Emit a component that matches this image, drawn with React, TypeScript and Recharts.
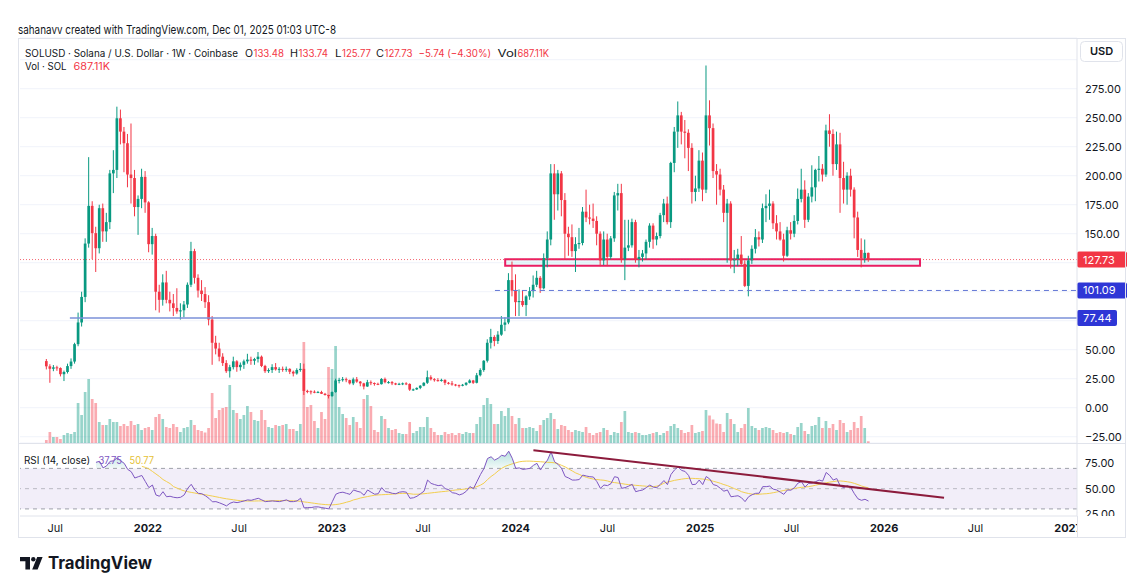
import { ComposedChart, Bar, Line, Area, XAxis, YAxis, CartesianGrid, ReferenceLine, ReferenceArea } from 'recharts'

const FONT = 'Inter, "Noto Sans", Roboto, sans-serif'
const TEXT = '#131722'
const UP = '#089981'
const DOWN = '#f23645'
const VOL_UP = 'rgba(8, 153, 129, 0.42)'
const VOL_DOWN = 'rgba(242, 54, 69, 0.42)'
const BORDER = '#e0e3eb'
const RSI_COLOR = '#7e57c2'
const RSI_MA_COLOR = '#f2cf4f'
const LEVEL_BLUE = '#2e36d6'

// layout
const W = 1141
const AXIS_W = 64
const PLOT_LEFT = 20
const PRICE_TOP = 38
const PRICE_H = 444
const RSI_PLOT_H = 72
const TIME_AXIS_H = 22
const BODY_W = 2.7
const VOL_W = 2.7

// week index domain (week 0 = 2021-06-14)
const T_MIN = -7.54
const T_MAX = 292.1
const P_MIN = -30.4
const P_MAX = 318.7
const VOL_MAX = 162
const RSI_MIN = 23
const RSI_MAX = 94.1

// SOLUSD weekly candles, Coinbase, 2021-06-14 .. 2025-12-01
const opens = [
  // 2021
  40.2, 35.7, 33.6, 34.8, 34.2, 28.9, 30.8, 35.9, 39.8, 54.8, 73.5, 95.5, 141.5, 174, 150.5, 137.5, 172, 152, 160, 202,
  205, 249.5, 238, 228, 201, 198, 173, 180, 199,
  // 2022
  177, 141, 148, 100, 93, 108, 93, 90, 86, 83, 84, 89, 106, 135, 112, 101, 98, 91, 76, 56,
  51, 44, 38.5, 31.5, 35, 40, 35, 37, 40, 41.5, 40.5, 42, 44, 36, 31.5, 32.5, 35, 33, 33.5, 33,
  33.5, 31, 29.5, 32.5, 33.5, 14.5, 14.2, 13.8, 13.4, 13.5, 12, 11,
  // 2023
  10, 13.5, 23.5, 24, 24.6, 23.8, 21, 24.5, 22.5, 21, 18.3, 22, 21.3, 20.6, 20.3, 24.8, 22, 22.1, 21, 20,
  20.6, 21, 20.5, 15.6, 15.8, 17.1, 19, 21.5, 26.3, 24.6, 23.8, 23.5, 24, 21.5, 21, 20, 19.5, 19, 19.8, 21.5,
  23.5, 21.5, 28, 32.5, 40.5, 56, 61, 57.5, 63, 71.5, 73.5, 110,
  // 2024
  101, 91, 92, 88.5, 96, 100.5, 106, 112, 103, 129, 145, 202, 184, 202, 179, 150, 147, 135, 141, 142,
  169, 164, 163, 161, 150, 127, 145, 130, 146, 183, 185, 128, 138, 140, 160, 128, 130, 133, 143, 157,
  145, 148, 166, 176, 160, 211, 238, 252, 238, 237, 224, 186, 189,
  // 2025
  213, 188, 252, 241, 204, 201, 188, 168, 176, 127, 128, 132, 124, 105, 127, 137, 147, 145, 172, 174,
  176, 159, 152, 145, 131, 153, 150, 161, 180, 188, 162, 182, 190, 205, 206, 201, 239, 236, 210, 227,
  198, 188, 200, 188, 164, 136, 129, 133.48,
]

const highs = [
  42, 37.5, 36.8, 36.2, 34.8, 32, 38, 42.5, 56, 82, 100, 146, 216, 178, 156, 175, 176, 168, 205, 222,
  259.5, 257, 242, 236, 245, 205, 183, 206, 204,
  178, 155, 150, 106, 115, 118, 100, 98, 103, 90, 92, 108, 143, 137, 115, 110, 104, 97, 79, 62,
  56, 47, 41, 37, 44, 41, 39, 41.5, 46.5, 44, 43, 48, 45, 37, 34, 37.5, 38.5, 35, 35.5, 35.5,
  34, 32, 34, 38.5, 38, 15.5, 15, 15, 14.5, 14.6, 12.8, 11.2,
  14, 25, 25.8, 26.5, 26, 24.2, 26, 26.5, 23, 21.5, 24, 23.5, 21.8, 21.6, 25.5, 26, 23, 23, 21.5, 21.5,
  21.7, 22, 21, 16.5, 17.5, 19.5, 22, 32, 28, 25.5, 25.5, 25, 24.5, 22.2, 23, 20.5, 20, 20.5, 22, 24.5,
  24, 30, 34, 41, 59, 68, 62.5, 66, 79, 78, 116, 126,
  115, 102, 101, 97, 104, 114, 118, 113.5, 133, 152, 210, 210, 205, 204, 185, 156, 158, 147, 155, 173,
  188, 175, 176, 165, 152, 152, 150, 148, 186, 193, 193, 162, 162, 163, 162, 136, 136, 145, 159, 159,
  151, 168, 180, 182, 212, 242, 264, 255, 248, 240, 228, 200, 222,
  220, 295, 265, 245, 210, 206, 192, 180, 178, 136, 137, 148, 127, 131, 140, 154, 152, 176, 184, 188,
  178, 166, 160, 150, 156, 160, 166, 189, 206, 196, 185, 209, 206, 217, 210, 244, 253, 240, 238, 237,
  212, 203, 206, 190, 169, 146, 145, 133.74,
]

const lows = [
  33, 21.5, 31.5, 31.8, 27, 23, 29.5, 33.5, 38, 53, 70, 91, 138, 128, 117, 133, 143, 143, 154, 185,
  198, 227, 203, 190, 176, 165, 149, 172, 168,
  134, 132, 84, 82, 88, 90, 83, 79, 81, 76, 78, 86, 104, 107, 95, 92, 86, 71, 37, 46,
  40, 36, 30, 26, 33, 31, 32, 33.5, 38, 37, 37, 39, 35, 30, 30, 30, 32, 30, 31, 31,
  29, 27, 28.5, 31, 11, 12.5, 11.5, 12.5, 12.8, 11.8, 10.5, 8,
  9.5, 13, 21, 22.5, 22, 20, 19.5, 21.5, 18.5, 15.8, 18, 19.5, 19, 19.5, 20, 21, 20.8, 19.5, 19.5, 19.5,
  19.5, 19.5, 14.5, 14.5, 15.3, 16, 18.5, 20.5, 23.5, 22.5, 22.5, 22.5, 19.5, 20, 19, 18.5, 17.3, 18.5, 19, 21,
  20.5, 21, 27, 31, 39, 51, 53, 55, 62, 66, 72, 96,
  79, 79, 87, 79, 93, 95, 104, 99, 102, 121, 140, 162, 170, 165, 128, 131, 130, 117, 137, 140,
  160, 158, 155, 140, 122, 123, 122, 128, 143, 170, 125, 110, 135, 138, 125, 121, 126, 128, 138, 137,
  140, 146, 160, 158, 155, 203, 224, 227, 215, 204, 176, 178, 186,
  178, 185, 226, 198, 175, 183, 160, 125, 120, 116, 122, 122, 104, 96, 124, 133, 139, 142, 160, 162,
  154, 145, 144, 126, 130, 145, 147, 158, 177, 155, 160, 177, 178, 195, 195, 199, 225, 200, 205, 168,
  176, 175, 182, 146, 130, 121, 125, 125.77,
]

const closes = [
  35.7, 33.6, 34.8, 34.2, 28.9, 30.8, 35.9, 39.8, 54.8, 73.5, 95.5, 141.5, 174, 150.5, 137.5, 172, 152, 160, 202, 205,
  249.5, 238, 228, 201, 198, 173, 180, 199, 177,
  141, 148, 100, 93, 108, 93, 90, 86, 83, 84, 89, 106, 135, 112, 101, 98, 91, 76, 56, 51,
  44, 38.5, 31.5, 35, 40, 35, 37, 40, 41.5, 40.5, 42, 44, 36, 31.5, 32.5, 35, 33, 33.5, 33, 33.5,
  31, 29.5, 32.5, 33.5, 14.5, 14.2, 13.8, 13.4, 13.5, 12, 11, 10,
  13.5, 23.5, 24, 24.6, 23.8, 21, 24.5, 22.5, 21, 18.3, 22, 21.3, 20.6, 20.3, 24.8, 22, 22.1, 21, 20, 20.6,
  21, 20.5, 15.6, 15.8, 17.1, 19, 21.5, 26.3, 24.6, 23.8, 23.5, 24, 21.5, 21, 20, 19.5, 19, 19.8, 21.5, 23.5,
  21.5, 28, 32.5, 40.5, 56, 61, 57.5, 63, 71.5, 73.5, 110, 101,
  91, 92, 88.5, 96, 100.5, 106, 112, 103, 129, 145, 202, 184, 202, 179, 150, 147, 135, 141, 142, 169,
  164, 163, 161, 150, 127, 145, 130, 146, 183, 185, 128, 138, 140, 160, 128, 130, 133, 143, 157, 145,
  148, 166, 176, 160, 211, 238, 252, 238, 237, 224, 186, 189, 213,
  188, 252, 241, 204, 201, 188, 168, 176, 127, 128, 132, 124, 105, 127, 137, 147, 145, 172, 174, 176,
  159, 152, 145, 131, 153, 150, 161, 180, 188, 162, 182, 190, 205, 206, 201, 239, 236, 210, 227, 198,
  188, 200, 188, 164, 136, 129, 133.5, 127.73,
]

// weekly volume, millions of SOL
const volumes = [
  1.2, 4.4, 2.4, 2.4, 1.6, 3.2, 4.0, 3.6, 4.4, 16, 11.2, 20.4, 25.6, 17.6, 16, 8.4, 7.2, 7.2, 9.6, 8.4,
  8.4, 6.8, 7.6, 6.8, 8.8, 7.2, 7.6, 5.2, 6.0,
  6.4, 5.2, 10.4, 11.6, 9.6, 6.4, 6.0, 7.6, 6.4, 4.4, 6.0, 6.4, 9.2, 7.2, 5.2, 4.8, 4.2, 6.0, 20, 10,
  13.2, 14, 14.4, 23.2, 13.2, 12, 9.6, 11.2, 14.8, 12.4, 9.2, 8.8, 13.2, 9.2, 6.4, 6.0, 7.2, 6.8, 7.2, 7.6,
  5.6, 5.6, 4.8, 7.6, 40.4, 14.4, 15.2, 8.8, 6.0, 12.4, 9.6, 30.4,
  29.6, 38.8, 14.4, 11.6, 10, 7.2, 10.4, 8.4, 6.0, 17.6, 19.2, 14.8, 5.2, 4.4, 10.8, 9.6, 6.0, 5.2, 5.6, 4.0,
  3.6, 3.6, 8.4, 4.0, 4.8, 6.4, 6.4, 10.4, 6.0, 4.4, 3.2, 3.2, 4.4, 3.6, 4.0, 3.2, 4.0, 3.6, 4.4, 4.0,
  4.0, 7.6, 10.4, 15.2, 18, 15.6, 7.6, 7.6, 12.8, 10.8, 14, 10.8,
  7.6, 10, 6.0, 6.0, 6.4, 6.0, 4.8, 7.2, 9.2, 10, 12, 9.6, 5.6, 7.2, 6.8, 5.2, 4.4, 5.2, 4.8, 4.4,
  6.4, 4.0, 3.2, 4.0, 4.4, 6.0, 5.2, 3.2, 4.4, 4.0, 8.4, 12.8, 4.4, 4.0, 4.4, 4.0, 3.2, 3.2, 3.6, 4.0,
  4.4, 3.2, 4.0, 4.8, 6.8, 7.6, 6.0, 5.2, 4.0, 4.4, 7.2, 4.0, 4.4,
  4.8, 13.2, 11, 9.4, 7.8, 7.6, 4.4, 12, 9.6, 7.6, 4.4, 6.0, 7.6, 14, 6.8, 6.0, 5.2, 6.0, 6.4, 6.0,
  5.2, 4.0, 4.4, 4.0, 4.4, 3.6, 3.2, 6.4, 8.0, 4.8, 3.6, 6.8, 7.2, 10.4, 6.0, 8.8, 6.0, 7.6, 5.2, 9.2,
  8.0, 4.4, 5.2, 8.4, 6.0, 10.8, 6.0, 0.69,
]

// RSI(14, close), first value at week 14
const RSI_START = 14
const rsiValues = [
  76, 77, 70.5, 72.5, 77, 77.5, 80.5, 77.5, 75, 69,
  66.7, 60.5, 61.8, 63, 57, 51, 53.6, 43.8, 42.5, 47,
  42, 42.5, 41.5, 41, 41.5, 43.8, 50.3, 54.3, 48.7, 45.4,
  45, 43, 40.5, 37, 37.2, 36, 34.6, 33, 35.6, 36.8,
  36.2, 37, 37.9, 38.9, 38.5, 39.5, 40.5, 38.9, 37.2, 37.5,
  37.9, 37.5, 37.2, 38, 38.9, 37.2, 37.2, 37.9, 40.5, 31,
  31.3, 31.3, 32, 32, 31.3, 30.7, 30, 37.2, 44.5, 46,
  46.5, 45.4, 44.4, 48.7, 47.5, 46.5, 43.5, 48.7, 46.5, 44.5,
  45, 51, 47, 46.5, 45.4, 45, 46.5, 47, 46.5, 40.5,
  41, 42.5, 45, 47.5, 58.5, 55.2, 54, 53, 53.5, 50,
  49, 46, 45.4, 43.8, 45, 47.5, 52, 50, 57, 64,
  70, 79.8, 81.5, 78.2, 80, 83, 82, 87, 80, 70,
  70.5, 69, 69.5, 70, 73, 75, 68.4, 74, 78.2, 86.4,
  76.6, 74, 70, 62, 60.5, 58.5, 58.5, 59, 63.4, 62.5,
  61.8, 61.5, 56.9, 50.3, 53.6, 53, 55, 61.8, 61, 50.3,
  51, 52.5, 54.3, 47, 48, 48.7, 51, 53.6, 51.5, 51,
  54.3, 58, 54, 64, 68.5, 71.6, 68, 67, 63, 54,
  54.3, 58.5, 54, 62, 59.5, 54, 53, 50.3, 47.5, 48.7,
  42, 42.5, 43, 41, 37.2, 42, 44, 45.4, 45.5, 52,
  52, 52.5, 49.5, 48.7, 46.5, 44.4, 48.7, 48.5, 51, 55.5,
  56.9, 51.5, 55.2, 55.5, 56.9, 58.5, 57.5, 66, 63, 58.5,
  60, 52.5, 51, 53, 51, 45, 40, 38.5, 39.5, 37.75,
]

// RSI-based moving average, first value at week 27
const RSI_MA_START = 27
const rsiMaValues = [
  72, 71, 69.5, 67, 64.5, 62, 59, 57, 55, 52,
  50.5, 49, 47.8, 47, 46.3, 45.7, 45, 44.4, 44, 43.3,
  42.7, 42, 41.3, 40.6, 40, 39.5, 39, 38.5, 38.1, 37.9,
  37.8, 37.8, 37.8, 37.9, 37.9, 37.9, 38, 38, 38.1, 38.2,
  38.2, 38.2, 38.1, 38, 37.9, 37.5, 36.9, 36.5, 36, 35.5,
  35, 34.6, 34.3, 34.1, 34, 34.3, 34.8, 35.6, 36.6, 37.5,
  38.9, 39.7, 40.8, 41.5, 42.2, 42.9, 43.5, 43.8, 44, 44.2,
  44.4, 44.6, 44.9, 45.2, 45.4, 45.3, 45, 44.5, 44.5, 44.7,
  45, 45.4, 45.8, 46.2, 46.6, 47, 47.3, 47.8, 48.2, 48.7,
  49, 49.4, 49.8, 50.3, 51, 52, 53.5, 55.5, 59, 62,
  64.5, 67.5, 70, 72, 73.3, 74.5, 75.5, 76.5, 77, 77.2,
  77.2, 77, 76.8, 76.6, 76.3, 76, 75.9, 75.5, 74.5, 73,
  71.5, 69.5, 67.5, 65.5, 64.1, 62.5, 61.2, 60.2, 59.5, 59,
  58.6, 58.3, 57.6, 56.5, 56, 55.5, 55, 54.4, 54, 53.6,
  53.3, 53, 52.7, 52.4, 52.1, 52, 52.5, 53.5, 55.5, 56.5,
  57.3, 58.2, 58.8, 59.4, 59.9, 60.2, 60.2, 60, 59.8, 59.5,
  59, 58.3, 57.3, 56.4, 55.3, 54, 53, 51.5, 50, 48.7,
  47, 46, 45.2, 44.6, 44.4, 44.5, 44.8, 45, 45.4, 46,
  46.7, 47.5, 48.2, 48.9, 49.6, 50.2, 50.8, 51.3, 51.6, 52,
  52.6, 53.4, 54.2, 55, 55.8, 56.5, 57, 57.5, 57.6, 57.3,
  56.8, 56.2, 55.2, 54, 52.6, 51.6, 50.77,
]

// time axis: week offsets of Jul 1 / Jan 1
const timeTicks = [2.43, 28.71, 54.57, 80.86, 106.71, 133, 159, 185.29, 211.14, 237.43, 263.29, 289.57]
const timeLabels = ['Jul', '2022', 'Jul', '2023', 'Jul', '2024', 'Jul', '2025', 'Jul', '2026', 'Jul', '2027']

const priceTicks = [-25, 0, 25, 50, 75, 100, 125, 150, 175, 200, 225, 250, 275, 300]
const priceTicksHidden = [75, 100, 125, 300]
const rsiTicks = [25, 50, 75]
const rsiBands = [70, 50, 30]

// drawings
const lastPrice = 127.73
const supportLevel = 101.09
const supportFrom = 127.1
const baseLevel = 77.44
const baseFrom = 6.6
const zoneWeeks = [130, 247.6]
const zonePrices = [122.4, 127.9]
const rsiTrend = [{ x: 138, y: 88 }, { x: 254.4, y: 41.1 }]

// legend line: [label, value, x, label width, value width]
const ohlcLegend: [string, string, number, number, number][] = [
  ['O', '133.48', 245, 8, 30.5],
  ['H', '133.74', 290, 8, 29.5],
  ['L', '125.77', 335, 6.5, 29],
  ['C', '127.73', 376, 8, 28],
  ['Vol', '687.11K', 497.5, 19.5, 31.5],
]

const data = closes.map((close, i) => ({
  t: i,
  open: opens[i],
  high: highs[i],
  low: lows[i],
  close,
  volume: volumes[i],
  rsi: i >= RSI_START ? rsiValues[i - RSI_START] : null,
  rsiMa: i >= RSI_MA_START ? rsiMaValues[i - RSI_MA_START] : null,
}))

const last = data[data.length - 1]

function fmt(v: number) {
  const s = Math.abs(v).toFixed(2)
  return v < 0 ? '\u2212' + s : s
}

function Candle(props: any) {
  const { x, y, width, height, payload } = props
  if (!payload || x == null || y == null) return null
  const { open, close, high, low } = payload
  const top = height >= 0 ? y : y + height
  const h = Math.abs(height)
  const cx = x + width / 2
  const span = high - low || 1
  const at = (v: number) => top + ((high - v) / span) * h
  const yo = at(open)
  const yc = at(close)
  const color = close >= open ? UP : DOWN
  return (
    <g>
      <line x1={cx} x2={cx} y1={top} y2={top + h} stroke={color} strokeWidth={1} />
      <rect x={cx - BODY_W / 2} y={Math.min(yo, yc)} width={BODY_W} height={Math.max(1, Math.abs(yc - yo))} fill={color} />
    </g>
  )
}

function VolumeBar(props: any) {
  const { x, y, width, height, payload } = props
  if (!payload || !(height > 0)) return null
  const cx = x + width / 2
  return <rect x={cx - VOL_W / 2} y={y} width={VOL_W} height={height} fill={payload.close >= payload.open ? VOL_UP : VOL_DOWN} />
}

function PriceTick({ x, y, payload }: any) {
  if (priceTicksHidden.includes(payload.value)) return <g />
  return (
    <text x={x} y={y} dy="0.355em" fontSize={11} fill={TEXT} fontFamily={FONT}>
      {fmt(payload.value)}
    </text>
  )
}

function RsiTick({ x, y, payload }: any) {
  return (
    <g clipPath="url(#rsiPaneClip)">
      <text x={x} y={y} dy="0.355em" fontSize={11} fill={TEXT} fontFamily={FONT}>
        {fmt(payload.value)}
      </text>
    </g>
  )
}

function TimeTick({ x, y, payload }: any) {
  const label = timeLabels[timeTicks.indexOf(payload.value)] ?? ''
  const isYear = label !== 'Jul'
  return (
    <g clipPath="url(#timeAxisClip)">
      <text x={x} y={y} dy="0.71em" textAnchor="middle" fontSize={11} fontWeight={isYear ? 700 : 400} fill={TEXT} fontFamily={FONT}>
        {label}
      </text>
    </g>
  )
}

function PriceTag({ viewBox, text, fill, width }: any) {
  if (!viewBox) return null
  const x = viewBox.x + viewBox.width
  const y = viewBox.y
  return (
    <g>
      <rect x={x} y={y - 8} width={width} height={16} rx={2} fill={fill} />
      <text x={x + 6} y={y} dy="0.36em" fontSize={11} fill="#ffffff" fontFamily={FONT}>
        {text}
      </text>
    </g>
  )
}

function TradingViewLogo() {
  return (
    <g transform="translate(20 557)">
      <path d="M0 0H10V12.5H5.4V4.3H0Z" fill={TEXT} />
      <circle cx={13.3} cy={2.2} r={2.2} fill={TEXT} />
      <path d="M17.2 0H22.6L17.6 12.5H12.2Z" fill={TEXT} />
      <text x={28} y={12.4} fontSize={17} fontWeight={700} fill={TEXT} fontFamily={FONT} textLength={104} lengthAdjust="spacingAndGlyphs">
        TradingView
      </text>
    </g>
  )
}

export default function App() {
  const plotRight = W - AXIS_W
  const rsiSpan = RSI_MAX - RSI_MIN
  const off70 = (RSI_MAX - 70) / rsiSpan
  const off30 = (RSI_MAX - 30) / rsiSpan
  const rsiTop = PRICE_H
  const timeTop = rsiTop + RSI_PLOT_H

  return (
    <div style={{ position: 'absolute', left: 0, top: 0, width: W, height: 581, background: '#ffffff', overflow: 'hidden' }}>
      <div style={{ position: 'absolute', left: 0, top: 0 }}>
        <ComposedChart width={W} height={PRICE_H} data={data} margin={{ top: PRICE_TOP, right: 0, bottom: 1, left: PLOT_LEFT }}>
          <CartesianGrid vertical={false} stroke="#f0f3fa" />
          <XAxis dataKey="t" type="number" domain={[T_MIN, T_MAX]} allowDataOverflow hide />
          <XAxis xAxisId="vol" dataKey="t" type="number" domain={[T_MIN, T_MAX]} allowDataOverflow hide />
          <YAxis
            orientation="right"
            width={AXIS_W}
            domain={[P_MIN, P_MAX]}
            allowDataOverflow
            ticks={priceTicks}
            interval={0}
            tick={<PriceTick />}
            tickLine={false}
            axisLine={{ stroke: BORDER }}
          />
          <YAxis yAxisId="vol" hide domain={[0, VOL_MAX]} allowDataOverflow />
          <ReferenceArea
            x1={zoneWeeks[0]}
            x2={zoneWeeks[1]}
            y1={zonePrices[0]}
            y2={zonePrices[1]}
            fill="#b2ebf2"
            fillOpacity={0.3}
            stroke="#e91e63"
            strokeWidth={2}
          />
          <Bar xAxisId="vol" yAxisId="vol" dataKey="volume" barSize={3} shape={(p: any) => <VolumeBar {...p} />} isAnimationActive={false} />
          <Bar dataKey={(d: any) => [d.low, d.high]} barSize={3} shape={(p: any) => <Candle {...p} />} isAnimationActive={false} />
          <ReferenceLine
            segment={[{ x: baseFrom, y: baseLevel }, { x: T_MAX, y: baseLevel }]}
            stroke="#7b91d9"
            strokeWidth={1.5}
            label={<PriceTag text={baseLevel.toFixed(2)} fill={LEVEL_BLUE} width={40} />}
          />
          <ReferenceLine
            segment={[{ x: supportFrom, y: supportLevel }, { x: T_MAX, y: supportLevel }]}
            stroke="#6478d6"
            strokeWidth={1}
            strokeDasharray="5 4"
            label={<PriceTag text={supportLevel.toFixed(2)} fill={LEVEL_BLUE} width={50} />}
          />
          <ReferenceLine
            y={lastPrice}
            stroke={DOWN}
            strokeOpacity={0.75}
            strokeDasharray="1 2"
            label={<PriceTag text={lastPrice.toFixed(2)} fill={DOWN} width={50} />}
          />
        </ComposedChart>
      </div>

      <div style={{ position: 'absolute', left: 0, top: rsiTop }}>
        <ComposedChart width={W} height={RSI_PLOT_H + TIME_AXIS_H} data={data} margin={{ top: 0, right: 0, bottom: 0, left: PLOT_LEFT }}>
          <defs>
            <clipPath id="rsiPaneClip">
              <rect x={0} y={0} width={W} height={RSI_PLOT_H} />
            </clipPath>
            <clipPath id="timeAxisClip">
              <rect x={0} y={0} width={plotRight} height={RSI_PLOT_H + TIME_AXIS_H} />
            </clipPath>
            <linearGradient id="rsiZoneFill" gradientUnits="userSpaceOnUse" x1={0} y1={0} x2={0} y2={RSI_PLOT_H}>
              <stop offset={0} stopColor="#26a69a" stopOpacity={0.45} />
              <stop offset={off70} stopColor="#26a69a" stopOpacity={0.06} />
              <stop offset={off70} stopColor="#26a69a" stopOpacity={0} />
              <stop offset={off30} stopColor={DOWN} stopOpacity={0} />
              <stop offset={off30} stopColor={DOWN} stopOpacity={0.06} />
              <stop offset={1} stopColor={DOWN} stopOpacity={0.4} />
            </linearGradient>
          </defs>
          <XAxis
            dataKey="t"
            type="number"
            domain={[T_MIN, T_MAX]}
            allowDataOverflow
            ticks={timeTicks}
            interval={0}
            height={TIME_AXIS_H}
            tick={<TimeTick />}
            tickLine={false}
            axisLine={{ stroke: BORDER }}
          />
          <YAxis
            orientation="right"
            width={AXIS_W}
            domain={[RSI_MIN, RSI_MAX]}
            allowDataOverflow
            ticks={rsiTicks}
            interval={0}
            tick={<RsiTick />}
            tickLine={false}
            axisLine={{ stroke: BORDER }}
          />
          <ReferenceArea y1={30} y2={70} fill={RSI_COLOR} fillOpacity={0.1} stroke="none" />
          {rsiBands.map((b) => (
            <ReferenceLine key={b} y={b} stroke="#9598a1" strokeOpacity={b === 50 ? 0.6 : 0.9} strokeDasharray="4 4" />
          ))}
          <Area dataKey="rsi" baseValue={70} stroke="none" fill="url(#rsiZoneFill)" fillOpacity={1} isAnimationActive={false} />
          <Line dataKey="rsiMa" stroke={RSI_MA_COLOR} strokeWidth={1} dot={false} isAnimationActive={false} />
          <Line dataKey="rsi" stroke={RSI_COLOR} strokeWidth={1} dot={false} isAnimationActive={false} />
          <ReferenceLine segment={rsiTrend} stroke="#8c1b3c" strokeWidth={2} ifOverflow="visible" />
        </ComposedChart>
      </div>

      <svg width={W} height={581} style={{ position: 'absolute', left: 0, top: 0, pointerEvents: 'none' }}>
        {/* frame */}
        <rect x={18.5} y={38.5} width={1107} height={499} fill="none" stroke={BORDER} />
        <line x1={18} x2={1126} y1={443.5} y2={443.5} stroke={BORDER} />
        <line x1={plotRight + 0.5} x2={plotRight + 0.5} y1={timeTop} y2={538} stroke={BORDER} />

        {/* header */}
        <text x={18} y={34} fontSize={12} fill={TEXT} fontFamily={FONT} textLength={318} lengthAdjust="spacingAndGlyphs">
          sahanavv created with TradingView.com, Dec 01, 2025 01:03 UTC-8
        </text>
        <g fontSize={10} fontFamily={FONT}>
          <text x={25} y={56.5} fill={TEXT} textLength={213} lengthAdjust="spacingAndGlyphs">
            SOLUSD · Solana / U.S. Dollar · 1W · Coinbase
          </text>
          {ohlcLegend.map(([label, value, x, lw, vw]) => (
            <g key={label}>
              <text x={x} y={56.5} fill={TEXT} textLength={lw} lengthAdjust="spacingAndGlyphs">
                {label}
              </text>
              <text x={x + lw + 0.5} y={56.5} fill={DOWN} textLength={vw} lengthAdjust="spacingAndGlyphs">
                {value}
              </text>
            </g>
          ))}
          <text x={418.5} y={56.5} fill={DOWN} textLength={72.5} lengthAdjust="spacingAndGlyphs">
            −5.74 (−4.30%)
          </text>
          <text x={25} y={70} fill={TEXT} textLength={41.5} lengthAdjust="spacingAndGlyphs">
            Vol · SOL
          </text>
          <text x={73.5} y={70} fill={DOWN} textLength={36.5} lengthAdjust="spacingAndGlyphs">
            687.11K
          </text>
        </g>

        {/* price scale unit */}
        <rect x={1080.5} y={41.5} width={42} height={20} rx={4} fill="#ffffff" stroke={BORDER} />
        <text x={1101.5} y={51.5} dy="0.355em" textAnchor="middle" fontSize={11} fontWeight={600} fill={TEXT} fontFamily={FONT}>
          USD
        </text>

        {/* RSI legend */}
        <g fontSize={10} fontFamily={FONT}>
          <text x={24} y={464} fill={TEXT} textLength={66} lengthAdjust="spacingAndGlyphs">
            RSI (14, close)
          </text>
          <text x={98.5} y={464} fill={RSI_COLOR} textLength={23.5} lengthAdjust="spacingAndGlyphs">
            {last.rsi?.toFixed(2)}
          </text>
          <text x={129.5} y={464} fill="#e5c136" textLength={24.5} lengthAdjust="spacingAndGlyphs">
            {last.rsiMa?.toFixed(2)}
          </text>
        </g>

        <TradingViewLogo />
      </svg>
    </div>
  )
}
